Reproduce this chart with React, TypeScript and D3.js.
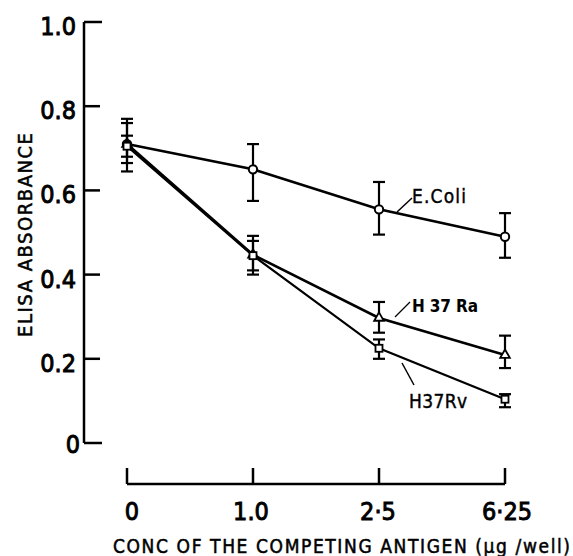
import React from 'react';
import * as d3 from 'd3';

// concentrations of the competing antigen (µg/well)
const concLabels = ['0', '1.0', '2·5', '6·25'];

const yTicks = [0, 0.2, 0.4, 0.6, 0.8, 1.0];

const seriesNames = ['E.Coli', 'H 37 Ra', 'H37Rv'];

// ELISA absorbance, mean and error bar limits
const ecoliMean = [0.71, 0.65, 0.555, 0.49];
const ecoliHi = [0.77, 0.71, 0.62, 0.546];
const ecoliLo = [0.645, 0.575, 0.495, 0.44];

const h37raMean = [0.71, 0.447, 0.297, 0.209];
const h37raHi = [0.76, 0.492, 0.335, 0.255];
const h37raLo = [0.665, 0.4, 0.262, 0.178];

const h37rvMean = [0.705, 0.445, 0.225, 0.104];
const h37rvHi = [0.73, 0.48, 0.246, 0.116];
const h37rvLo = [0.68, 0.41, 0.2, 0.085];

const font = '"DejaVu Sans Condensed", "DejaVu Sans", sans-serif';

export default function App() {
    const width = 573;
    const height = 556;

    const x = d3.scalePoint<string>().domain(concLabels).range([127, 505]);
    const y = d3.scaleLinear().domain([0, 1]).range([443, 22]);

    const series = [
        { name: seriesNames[0], mean: ecoliMean, hi: ecoliHi, lo: ecoliLo, marker: 'circle', sw: 2.6 },
        { name: seriesNames[1], mean: h37raMean, hi: h37raHi, lo: h37raLo, marker: 'triangle', sw: 2.6 },
        { name: seriesNames[2], mean: h37rvMean, hi: h37rvHi, lo: h37rvLo, marker: 'square', sw: 2.2 },
    ];

    const line = d3.line<number>()
        .x((_, i) => x(concLabels[i]) as number)
        .y(d => y(d));

    const tri = d3.symbol().type(d3.symbolTriangle).size(40)();

    // small nudges so tick labels sit like the printed ones
    const xLabelShift: Record<string, number> = { '0': 5, '1.0': -2, '2·5': -1, '6·25': 2 };

    return (
        <svg width={width} height={height}
            style={{ position: 'absolute', left: 0, top: 0, background: '#fff' }}
            fontFamily={font}>
            {/* y axis */}
            <line x1={84} x2={84} y1={y(1)} y2={y(0)} stroke="#000" strokeWidth={2.5} />
            {yTicks.map(t => (
                <g key={t}>
                    <line x1={84} x2={t === 0 || t === 1 ? 102 : 100} y1={y(t)} y2={y(t)} stroke="#000" strokeWidth={2.5} />
                    <text x={t === 0 ? 80 : 76} y={y(t) + (t === 0 ? 10 : 13)} textAnchor="end"
                        fontSize={25} fill="#000" stroke="#000" strokeWidth={0.9}>{t === 0 ? '0' : t.toFixed(1)}</text>
                </g>
            ))}
            <text transform={`translate(32,235) rotate(-90)`} textAnchor="middle"
                fontSize={20} fill="#000" stroke="#000" strokeWidth={0.5}
                textLength={204} lengthAdjust="spacing">ELISA ABSORBANCE</text>

            {/* x axis */}
            <line x1={x('0')} x2={x('6·25')} y1={484} y2={484} stroke="#000" strokeWidth={2.5} />
            {concLabels.map(c => (
                <g key={c}>
                    <line x1={x(c)} x2={x(c)} y1={484} y2={468} stroke="#000" strokeWidth={2.5} />
                    <text x={(x(c) as number) + xLabelShift[c]} y={520} textAnchor="middle"
                        fontSize={25} fill="#000" stroke="#000" strokeWidth={0.9}>{c}</text>
                </g>
            ))}
            <text x={113} y={553} fontSize={19} fill="#000" stroke="#000" strokeWidth={0.5}
                textLength={457} lengthAdjust="spacing">
                CONC OF THE COMPETING ANTIGEN (µg /well)
            </text>

            {/* series */}
            {series.map(s => (
                <g key={s.name}>
                    <path d={line(s.mean) || ''} fill="none" stroke="#000" strokeWidth={s.sw} />
                    {s.mean.map((v, i) => {
                        const cx = x(concLabels[i]) as number;
                        return (
                            <g key={i}>
                                <line x1={cx} x2={cx} y1={y(s.hi[i])} y2={y(s.lo[i])} stroke="#000" strokeWidth={2.2} />
                                <line x1={cx - 6} x2={cx + 6} y1={y(s.hi[i])} y2={y(s.hi[i])} stroke="#000" strokeWidth={2.2} />
                                <line x1={cx - 6} x2={cx + 6} y1={y(s.lo[i])} y2={y(s.lo[i])} stroke="#000" strokeWidth={2.2} />
                                {s.marker === 'circle' && (
                                    <circle cx={cx} cy={y(v)} r={4.2} fill="#fff" stroke="#000" strokeWidth={2} />
                                )}
                                {s.marker === 'triangle' && (
                                    <path d={tri || ''} transform={`translate(${cx},${y(v)})`} fill="#fff" stroke="#000" strokeWidth={1.8} />
                                )}
                                {s.marker === 'square' && (
                                    <rect x={cx - 3.5} y={y(v) - 3.5} width={7} height={7} fill="#fff" stroke="#000" strokeWidth={1.8} />
                                )}
                            </g>
                        );
                    })}
                </g>
            ))}

            {/* labels */}
            <line x1={397} y1={212} x2={412} y2={198} stroke="#000" strokeWidth={1.5} />
            <text x={412} y={203} fontSize={19} fill="#000" stroke="#000" strokeWidth={0.4}
                textLength={54} lengthAdjust="spacing">{seriesNames[0]}</text>
            <line x1={395} y1={317} x2={410} y2={302} stroke="#000" strokeWidth={1.3} />
            <text x={412} y={312} fontSize={17} fontWeight="bold" fill="#000"
                textLength={66} lengthAdjust="spacing">{seriesNames[1]}</text>
            <line x1={402} y1={363} x2={414} y2={385} stroke="#000" strokeWidth={1.5} />
            <text x={409} y={408} fontSize={19} fill="#000" stroke="#000" strokeWidth={0.4}
                textLength={58} lengthAdjust="spacing">{seriesNames[2]}</text>
        </svg>
    );
}
